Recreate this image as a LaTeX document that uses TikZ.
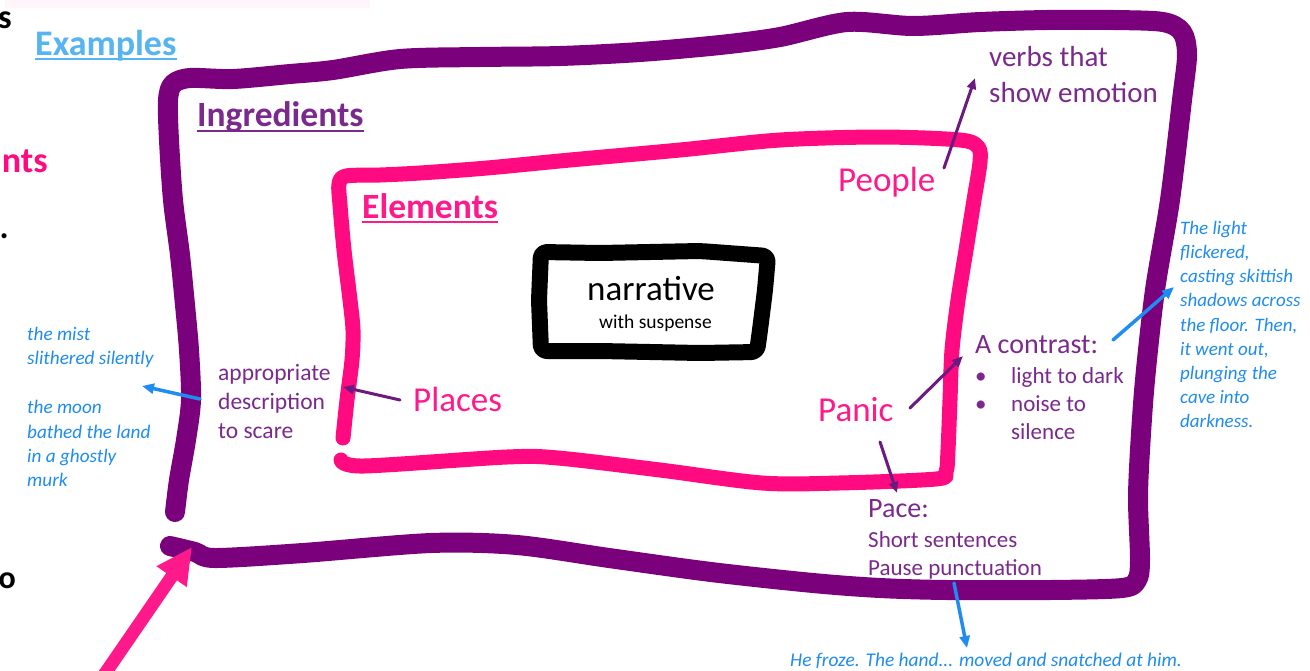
\documentclass[tikz,border=0pt]{standalone}
\usepackage{fontspec}
\setmainfont{Carlito}
\usetikzlibrary{arrows.meta}

\definecolor{inkpurple}{HTML}{7B007B}
\definecolor{txtpurple}{HTML}{7A2A8C}
\definecolor{arrpurple}{HTML}{6C1A7E}
\definecolor{inkpink}{HTML}{FF0A80}
\definecolor{txtpink}{HTML}{FF1A8C}
\definecolor{inkblue}{HTML}{1E8CF0}
\definecolor{skyblue}{HTML}{56B4F0}

\newcommand\fsz[2]{\fontsize{#1}{#2}\selectfont}

\begin{document}
\begin{tikzpicture}[x=1pt,y=-1pt,
  lbl/.style={inner sep=0pt, anchor=base west},
  block/.style={inner sep=0pt, anchor=north west, align=left},
  frag/.style={inner sep=0pt, anchor=base east},
  purplebox/.style={draw=inkpurple, line width=20pt, line cap=round, line join=round},
  pinkbox/.style={draw=inkpink, line width=15pt, line cap=round, line join=round},
  blackbox/.style={draw=black, line width=16pt, line cap=round, line join=round, rounded corners=6pt},
  parrow/.style={draw=arrpurple, line width=3pt, line cap=round, -{Triangle[length=11pt,width=9pt]}},
  barrow/.style={draw=inkblue, line width=3.5pt, line cap=round, -{Triangle[length=12pt,width=10pt]}},
  bigarrow/.style={draw=txtpink, line width=13pt, -{Triangle[length=36pt,width=34pt]}},
]
\useasboundingbox (0,0) rectangle (1310,670);
\clip (0,0) rectangle (1310,670);
\fill[white] (0,0) rectangle (1310,670);

% faint pink haze along the top edge
\fill[inkpink, opacity=0.04] (5,0) rectangle (370,8);

% word fragments at the left edge
\node[frag, font=\fsz{34}{40}\bfseries] (fragS) at (12,28) {s};
\node[frag, font=\fsz{36}{40}\bfseries, text=inkpink] (fragNts) at (48,172) {nts};
\node[frag, font=\fsz{34}{40}\bfseries] (fragDot) at (9,238) {.};
\node[frag, font=\fsz{32}{40}\bfseries] (fragO) at (16,588) {o};

% outer frame: ingredients
\draw[purplebox] plot[smooth, tension=0.5] coordinates {
  (175,512) (179,480) (186,440) (191,400) (189,350) (185,305) (180,255)
  (173,200) (169,140) (168,100) (173,84) (190,78) (233,79) (290,74)
  (333,70) (400,59) (480,57) (560,56) (640,52) (720,45) (780,37)
  (847,22) (913,26) (980,22) (1047,20) (1113,20) (1163,22) (1182,32)
  (1187,55) (1182,100) (1170,200) (1155,290) (1145,380) (1140,450)
  (1138,500) (1140,560) (1137,580) (1122,588) (1050,590) (947,590)
  (880,588) (813,583) (711,572) (609,558) (517,545) (431,543)
  (303,553) (215,558) (195,552) (170,546)};

% middle frame: elements
\draw[pinkbox] plot[smooth, tension=0.5] coordinates {
  (343,438) (347,400) (352,360) (353,330) (350,300) (344,250) (340,205)
  (339,184) (346,176) (380,175) (420,173) (487,168) (570,160) (680,150)
  (780,140) (880,137) (960,140) (978,147) (980,162) (974,200) (966,250)
  (958,300) (952,350) (950,400) (948,450) (946,472) (936,479) (839,483)
  (762,483) (660,470) (558,458) (507,457) (364,466) (341,460)};

% inner frame: narrative
\draw[blackbox] (541,252) -- (600,253) -- (700,251) -- (768,256)
  -- (765,290) -- (760,330) -- (757,352) -- (700,353) -- (600,351)
  -- (541,351) -- (539,300) -- cycle;

% headings
\node[lbl, font=\fsz{36}{40}\bfseries, text=skyblue] (examples) at (35,55) {Examples};
\node[lbl, font=\fsz{35.5}{40}\bfseries, text=txtpurple] (ingredients) at (197,126) {Ingredients};
\node[lbl, font=\fsz{35.5}{40}\bfseries, text=txtpink] (elements) at (362,218) {Elements};
\draw[skyblue, line width=2pt] ([yshift=-4pt]examples.base west) -- ([yshift=-4pt]examples.base east);
\draw[txtpurple, line width=2pt] ([yshift=-5pt]ingredients.base west) -- ([yshift=-5pt]ingredients.base east);
\draw[txtpink, line width=2pt] ([yshift=-4pt]elements.base west) -- ([yshift=-4pt]elements.base east);

% centre
\node[lbl, font=\fsz{35}{40}] (narrative) at (587,300) {narrative};
\node[lbl, font=\fsz{19.5}{24}] (suspense) at (599,328) {with suspense};

% elements
\node[lbl, font=\fsz{35}{40}, text=txtpink] (people) at (838,191) {People};
\node[lbl, font=\fsz{35}{40}, text=txtpink] (places) at (413,411) {Places};
\node[lbl, font=\fsz{35}{40}, text=txtpink] (panic) at (818,421) {Panic};

% ingredients
\node[block, font=\fsz{29}{36}, text=txtpurple] (verbs) at (989,46) {verbs that\\show emotion};
\node[block, font=\fsz{23.5}{29}, text=txtpurple] (approp) at (218,364) {appropriate\\description\\to scare};
\node[lbl, font=\fsz{28}{32}, text=txtpurple] (contrast) at (975,353) {A contrast:};
\node[block, font=\fsz{23}{28}, text=txtpurple] (contrastlist) at (975,367)
  {\makebox[36pt][l]{\textbullet}light to dark\\
   \makebox[36pt][l]{\textbullet}noise to\\
   \hspace*{36pt}silence};
\node[lbl, font=\fsz{28}{32}, text=txtpurple] (pace) at (868,517) {Pace:};
\node[block, font=\fsz{23}{28}, text=txtpurple] (pacelist) at (868,531)
  {Short sentences\\Pause punctuation};

% examples
\node[block, font=\fsz{19.2}{24.4}\itshape, text=inkblue] (mist) at (27,327)
  {the mist\\slithered silently\\[24.4pt]the moon\\bathed the land\\in a ghostly\\murk};
\node[block, font=\fsz{19}{24.2}\itshape, text=inkblue] (light) at (1180,221)
  {The light\\flickered,\\casting skittish\\shadows across\\the floor. Then,\\it went out,\\plunging the\\cave into\\darkness.};
\node[lbl, font=\fsz{19.4}{24}\itshape, text=inkblue] (froze) at (790,666)
  {He froze. The hand... moved and snatched at him.};

% connector ends
\coordinate (people-out) at (944,168);
\coordinate (verbs-in) at (975,78);
\coordinate (places-out) at (400,400);
\coordinate (approp-in) at (343,387);
\coordinate (approp-out) at (200,399);
\coordinate (mist-in) at (142,386);
\coordinate (panic-out) at (910,408);
\coordinate (contrast-in) at (963,356);
\coordinate (panic-down) at (880,442);
\coordinate (pace-in) at (897,493);
\coordinate (contrast-out) at (1113,340);
\coordinate (light-in) at (1174,287);
\coordinate (pace-out) at (954,583);
\coordinate (froze-in) at (967,648);
\coordinate (pointer-tail) at (104,675);
\coordinate (pointer-tip) at (192,547);

% connectors
\draw[parrow] (people-out) -- (verbs-in);
\draw[parrow] (places-out) -- (approp-in);
\draw[parrow] (panic-out) -- (contrast-in);
\draw[parrow] (panic-down) -- (pace-in);
\draw[barrow] (approp-out) -- (mist-in);
\draw[barrow] (contrast-out) -- (light-in);
\draw[barrow] (pace-out) -- (froze-in);
\draw[bigarrow] (pointer-tail) -- (pointer-tip);
\end{tikzpicture}
\end{document}
